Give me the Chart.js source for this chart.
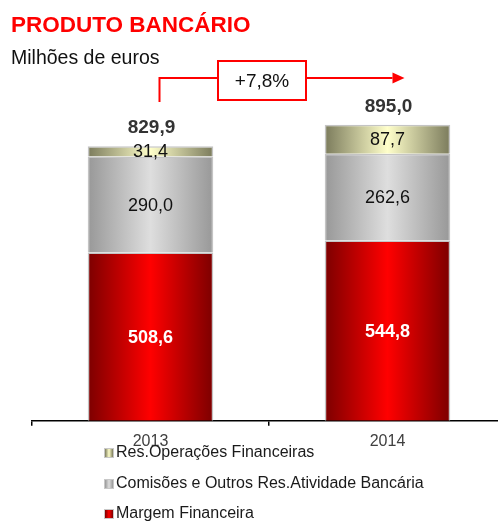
<!DOCTYPE html>
<html>
<head>
<meta charset="utf-8">
<script src="https://cdn.jsdelivr.net/npm/chart.js@4/dist/chart.umd.min.js"></script>
<style>
    body { margin: 0; background: #fff; font-family: "Liberation Sans", Arial, sans-serif; }
    #wrap { position: relative; width: 498px; height: 521px; overflow: hidden; }
    #chart { position: absolute; left: 0; top: 0; }
    .title { position: absolute; left: 11px; top: 14px; font-size: 22.5px; line-height: 1; font-weight: bold; color: #ff0000; white-space: nowrap; }
    .subtitle { position: absolute; left: 11px; top: 48px; font-size: 19.5px; line-height: 1; color: #111; white-space: nowrap; }
    #legend { position: absolute; left: 104px; top: 443px; font-size: 16px; color: #1a1a1a; }
    #legend div { height: 30.5px; line-height: 18px; white-space: nowrap; }
    #legend span.box { display: inline-block; width: 8px; height: 8px; border: 1px solid #c8c8c8; margin-right: 2px; vertical-align: -1px; }
</style>
</head>
<body>
<div id="wrap">
    <canvas id="chart" width="520" height="521"></canvas>
    <div class="title">PRODUTO BANCÁRIO</div>
    <div class="subtitle">Milhões de euros</div>
    <div id="legend"></div>
</div>
<script>
// Data
const years = ['2013', '2014'];
const margemFinanceira = [508.6, 544.8];
const comissoes = [290.0, 262.6];
const resOperacoes = [31.4, 87.7];
const totals = [829.9, 895.0];
const growthLabel = '+7,8%';

const BAR_PCT = 0.53;

// edge / centre colours of each bar gradient
const redStops = ['#7c0000', '#ff0000'];
const grayStops = ['#989898', '#dedede'];
const yellowStops = ['#7b7b5c', '#ffffca'];

function fmt(v) {
    return v.toFixed(1).replace('.', ',');
}

// Horizontal gradient across each bar
function barGradient(stops) {
    return function(context) {
        const chart = context.chart;
        if (!chart.chartArea || context.type !== 'data') return stops[1];
        const xs = chart.scales.x;
        const cx = xs.getPixelForValue(context.dataIndex);
        const half = xs.width / years.length * BAR_PCT / 2;
        const g = chart.ctx.createLinearGradient(cx - half, 0, cx + half, 0);
        g.addColorStop(0, stops[0]);
        g.addColorStop(0.5, stops[1]);
        g.addColorStop(1, stops[0]);
        return g;
    };
}

// Value labels inside bars and totals on top
const valueLabels = {
    id: 'valueLabels',
    afterDatasetsDraw(chart) {
        const ctx = chart.ctx;
        ctx.save();
        ctx.textAlign = 'center';
        ctx.textBaseline = 'middle';
        chart.data.datasets.forEach((ds, i) => {
            const meta = chart.getDatasetMeta(i);
            meta.data.forEach((bar, j) => {
                const y = (bar.y + bar.base) / 2;
                if (i === 0) {
                    ctx.font = 'bold 18px "Liberation Sans", Arial';
                    ctx.fillStyle = '#ffffff';
                } else {
                    ctx.font = '18px "Liberation Sans", Arial';
                    ctx.fillStyle = '#111111';
                }
                ctx.fillText(fmt(ds.data[j]), bar.x, y + 1);
            });
        });
        const topMeta = chart.getDatasetMeta(chart.data.datasets.length - 1);
        ctx.font = 'bold 19px "Liberation Sans", Arial';
        ctx.fillStyle = '#333333';
        topMeta.data.forEach((bar, j) => {
            ctx.fillText(fmt(totals[j]), bar.x + 1, bar.y - 18);
        });
        ctx.restore();
    }
};

// Growth arrow between the two years
const growthArrow = {
    id: 'growthArrow',
    afterDraw(chart) {
        const ctx = chart.ctx;
        const xs = chart.scales.x;
        const x0 = xs.getPixelForValue(0) + 9;
        const x1 = xs.getPixelForValue(1) + 5;
        const ly = 78;
        const boxL = 218, boxR = 306, boxT = 61, boxB = 100;
        ctx.save();
        ctx.strokeStyle = '#ff0000';
        ctx.fillStyle = '#ff0000';
        ctx.lineWidth = 2;
        ctx.beginPath();
        ctx.moveTo(x0, 102);
        ctx.lineTo(x0, ly);
        ctx.lineTo(boxL, ly);
        ctx.moveTo(boxR, ly);
        ctx.lineTo(x1, ly);
        ctx.stroke();
        ctx.beginPath();
        ctx.moveTo(x1, ly - 5.5);
        ctx.lineTo(x1 + 12, ly);
        ctx.lineTo(x1, ly + 5.5);
        ctx.closePath();
        ctx.fill();
        ctx.strokeRect(boxL, boxT, boxR - boxL, boxB - boxT);
        ctx.fillStyle = '#111111';
        ctx.font = '19px "Liberation Sans", Arial';
        ctx.textAlign = 'center';
        ctx.textBaseline = 'middle';
        ctx.fillText(growthLabel, (boxL + boxR) / 2, (boxT + boxB) / 2 + 1);
        ctx.restore();
    }
};

const datasets = [
    { label: 'Margem Financeira', data: margemFinanceira, backgroundColor: barGradient(redStops), stops: redStops },
    { label: 'Comisões e Outros Res.Atividade Bancária', data: comissoes, backgroundColor: barGradient(grayStops), stops: grayStops },
    { label: 'Res.Operações Financeiras', data: resOperacoes, backgroundColor: barGradient(yellowStops), stops: yellowStops }
];

const chart = new Chart(document.getElementById('chart'), {
    type: 'bar',
    data: {
        labels: years,
        datasets: datasets.map(d => ({
            label: d.label,
            data: d.data,
            backgroundColor: d.backgroundColor,
            borderColor: '#c4c4c4',
            borderWidth: 1.5,
            barPercentage: BAR_PCT,
            categoryPercentage: 1
        }))
    },
    options: {
        responsive: false,
        animation: false,
        layout: { padding: { left: 32, right: 14, top: 90, bottom: 64 } },
        plugins: {
            legend: { display: false },
            tooltip: { enabled: false }
        },
        scales: {
            x: {
                stacked: true,
                border: { display: true, color: '#000', width: 1.5 },
                grid: { display: true, drawOnChartArea: false, drawTicks: true, tickLength: 5, color: '#000', lineWidth: 1.5, offset: true },
                ticks: { color: '#404040', font: { family: '"Liberation Sans", Arial', size: 16 }, padding: 6 }
            },
            y: {
                stacked: true,
                display: false,
                min: 0,
                max: 1000
            }
        }
    },
    plugins: [valueLabels, growthArrow]
});

// HTML legend, top series first
const legendEl = document.getElementById('legend');
datasets.slice().reverse().forEach(d => {
    const row = document.createElement('div');
    const box = document.createElement('span');
    box.className = 'box';
    box.style.background = `linear-gradient(to right, ${d.stops[0]}, ${d.stops[1]}, ${d.stops[0]})`;
    row.appendChild(box);
    row.appendChild(document.createTextNode(d.label));
    legendEl.appendChild(row);
});
</script>
</body>
</html>
